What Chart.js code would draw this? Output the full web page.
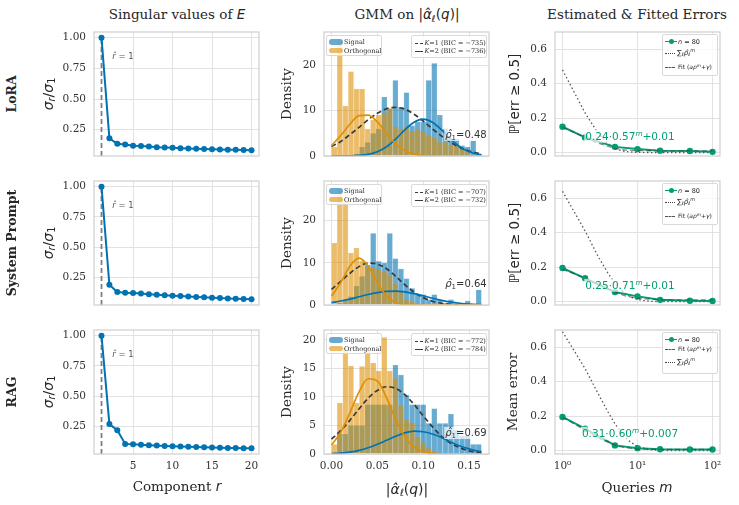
<!DOCTYPE html>
<html lang="en">
  <head>
    <meta charset="UTF-8" />
    <title>Singular values, GMM fits and error decay</title>
    <script src="https://cdn.jsdelivr.net/npm/chart.js@4.4.1/dist/chart.umd.min.js"></script>
    <style>
      body {
        margin: 0;
        width: 739px;
        height: 505px;
        position: relative;
        overflow: hidden;
        background: #fff;
        color: #262626;
        font-family: "DejaVu Serif", serif;
      }
      canvas {
        position: absolute;
      }
      .t {
        position: absolute;
        transform: translate(-50%, -50%);
        white-space: nowrap;
        line-height: 1;
      }
      .rot {
        transform: translate(-50%, -50%) rotate(-90deg);
      }
      .m {
        font-family: "DejaVu Sans", sans-serif;
      }
      sub,
      sup {
        font-size: 70%;
        line-height: 0;
      }
      sub {
        vertical-align: -0.25em;
      }
      sup {
        vertical-align: 0.55em;
      }
      .leg {
        position: absolute;
        background: rgba(255, 255, 255, 0.8);
        border: 1px solid #d9d9d9;
        border-radius: 2px;
        box-sizing: border-box;
        font-size: 6.5px;
      }
      .leg div {
        position: absolute;
        white-space: nowrap;
        line-height: 1;
      }
    </style>
  </head>
  <body>
    <script>
      // ---- values ----
      const rowNames = ["LoRA", "System Prompt", "RAG"];

      // column 1: normalised singular values
      const components = [1, 2, 3, 4, 5, 6, 7, 8, 9, 10, 11, 12, 13, 14, 15, 16, 17, 18, 19, 20];
      const svLora = [1.0, 0.18, 0.135, 0.13, 0.12, 0.117, 0.113, 0.108, 0.105, 0.103, 0.1, 0.098, 0.096, 0.094, 0.092, 0.09, 0.088, 0.086, 0.084, 0.082];
      const svSystem = [1.0, 0.19, 0.13, 0.125, 0.122, 0.118, 0.113, 0.108, 0.104, 0.1, 0.097, 0.093, 0.09, 0.087, 0.084, 0.081, 0.078, 0.075, 0.073, 0.07];
      const svRag = [1.0, 0.27, 0.22, 0.107, 0.103, 0.1, 0.096, 0.093, 0.09, 0.088, 0.085, 0.083, 0.081, 0.079, 0.077, 0.076, 0.074, 0.073, 0.071, 0.07];
      const rHat = [1, 1, 1];

      // column 2: histograms (density, 27 bins from 0) and GMM curves
      const binWidth = 0.00606;
      const sigLora = [0, 0, 0, 0, 0.5, 2.0, 3.0, 5.0, 6.0, 13.0, 10.4, 16.7, 10.8, 14.0, 6.7, 7.5, 7.5, 16.7, 20.4, 9.0, 6.0, 3.8, 3.8, 2.3, 2.0, 3.4, 0.5];
      const orthLora = [2.0, 25.5, 11.0, 18.6, 14.8, 14.8, 6.0, 8.0, 9.0, 9.5, 10.5, 6.5, 6.0, 6.5, 5.5, 6.0, 5.5, 4.5, 4.0, 3.0, 3.0, 2.5, 2.5, 1.5, 1.0, 0, 0];
      const sigSystem = [0, 0.5, 1.0, 2.0, 4.5, 6.8, 9.5, 17.0, 10.4, 10.0, 17.0, 11.0, 8.6, 6.3, 4.0, 2.5, 2.5, 1.3, 2.5, 1.3, 0.5, 1.3, 0, 0, 1.0, 0, 3.7];
      const orthSystem = [14.7, 27.5, 24.5, 12.3, 13.5, 10.5, 9.0, 9.0, 8.5, 8.0, 7.0, 5.0, 3.0, 1.5, 0.8, 0.3, 0.3, 0, 0, 0, 0, 0, 0, 0, 0, 0, 0];
      const sigRag = [0, 3.5, 3.5, 5.0, 5.0, 5.0, 8.7, 8.7, 8.7, 8.7, 8.7, 15.6, 13.9, 10.4, 8.7, 8.7, 8.7, 5.4, 8.0, 5.4, 5.4, 7.0, 4.2, 3.2, 3.2, 1.7, 1.7];
      const orthRag = [1.7, 9.0, 18.5, 15.5, 9.0, 15.4, 18.3, 16.0, 14.6, 20.5, 14.6, 13.3, 8.5, 6.0, 5.5, 3.0, 2.0, 1.0, 0.5, 0, 0, 0, 0, 0, 0, 0, 0];

      const alphaGrid = [0, 0.01, 0.02, 0.03, 0.04, 0.05, 0.06, 0.07, 0.08, 0.09, 0.1, 0.11, 0.12, 0.13, 0.14, 0.15, 0.16, 0.1636];
      const k1Lora = [2.1, 3.2, 4.7, 6.3, 8.0, 9.4, 10.4, 10.7, 10.3, 9.2, 7.7, 6.0, 4.4, 3.0, 1.9, 1.1, 0.6, 0.5];
      const k2OrthLora = [2.3, 4.5, 7.0, 8.9, 9.0, 7.5, 5.0, 2.7, 1.2, 0.4, 0.1, 0.03, 0, 0, 0, 0, 0, 0];
      const k2SigLora = [0.01, 0.01, 0.03, 0.12, 0.37, 0.95, 2.05, 3.74, 5.75, 7.43, 8.1, 7.43, 5.75, 3.74, 2.05, 0.95, 0.37, 0.25];
      const k1System = [3.7, 5.6, 7.5, 9.1, 9.95, 9.7, 8.6, 6.8, 4.8, 3.05, 1.75, 0.9, 0.4, 0.17, 0.06, 0.02, 0, 0];
      const k2OrthSystem = [2.1, 5.3, 9.2, 11.1, 9.2, 5.3, 2.1, 0.6, 0.1, 0.01, 0, 0, 0, 0, 0, 0, 0, 0];
      const k2SigSystem = [0.58, 0.94, 1.4, 1.95, 2.5, 2.95, 3.25, 3.3, 3.1, 2.7, 2.2, 1.6, 1.1, 0.7, 0.42, 0.23, 0.12, 0.1];
      const k1Rag = [2.6, 4.1, 5.9, 7.9, 9.8, 11.15, 11.8, 11.5, 10.4, 8.7, 6.7, 4.8, 3.1, 1.9, 1.1, 0.56, 0.27, 0.2];
      const k2OrthRag = [1.6, 3.8, 7.2, 10.9, 13.2, 12.8, 9.9, 6.1, 3.0, 1.2, 0.4, 0.1, 0.02, 0, 0, 0, 0, 0];
      const k2SigRag = [0.07, 0.17, 0.34, 0.64, 1.1, 1.7, 2.4, 3.1, 3.7, 4.0, 3.9, 3.5, 2.9, 2.1, 1.4, 0.9, 0.5, 0.42];
      const bicK1 = [-735, -707, -772];
      const bicK2 = [-736, -732, -784];
      const rhoHat = ["0.48", "0.64", "0.69"];
      const densityMax = [27.3, 29.4, 21.75];
      const densityTicks = [[0, 10, 20], [0, 10, 20], [0, 5, 10, 15, 20]];

      // column 3: error vs number of queries
      const queries = [1, 2, 5, 10, 20, 50, 100];
      const errLora = [0.15, 0.088, 0.033, 0.02, 0.011, 0.009, 0.004];
      const errSystem = [0.195, 0.135, 0.055, 0.03, 0.01, 0.005, 0.003];
      const errRag = [0.195, 0.127, 0.03, 0.014, 0.008, 0.006, 0.006];
      const fitM = [1, 2, 3, 5, 7, 10, 20, 50, 100];
      const fitLora = [0.147, 0.088, 0.054, 0.024, 0.014, 0.011, 0.01, 0.01, 0.01];
      const fitSystem = [0.188, 0.136, 0.099, 0.055, 0.032, 0.018, 0.01, 0.01, 0.01];
      const fitRag = [0.193, 0.119, 0.074, 0.031, 0.016, 0.009, 0.007, 0.007, 0.007];
      const sumM = [1, 2, 3, 4, 5, 6, 7, 8, 10, 15, 20, 50, 100];
      const sumLora = [0.48, 0.23, 0.11, 0.053, 0.025, 0.012, 0.006, 0.003, 0.001, 0, 0, 0, 0];
      const sumSystem = [0.64, 0.41, 0.26, 0.168, 0.107, 0.069, 0.044, 0.028, 0.012, 0.001, 0, 0, 0];
      const sumRag = [0.69, 0.476, 0.329, 0.227, 0.156, 0.108, 0.074, 0.051, 0.024, 0.004, 0.0006, 0, 0];
      const fitText = ["0.24·0.57<sup><i>m</i></sup>+0.01", "0.25·0.71<sup><i>m</i></sup>+0.01", "0.31·0.60<sup><i>m</i></sup>+0.007"];

      // ---- layout ----
      const BLUE = "#0173b2", ORANGE = "#de8f05", GREEN = "#029e73";
      const SIG_FILL = "rgba(1, 115, 178, 0.6)", ORTH_FILL = "rgba(222, 143, 5, 0.6)";
      const PLOT_W = 165, PLOT_H = 124;
      const colLeft = [94, 324, 555];
      const rowTop = [32, 181, 330];
      const PAD = { l: 50, r: 8, t: 6, b: 28 };

      const frame = {
        id: "frame",
        afterDatasetsDraw(chart) {
          const { ctx, chartArea: a } = chart;
          ctx.save();
          ctx.strokeStyle = "#cfcfcf";
          ctx.lineWidth = 1.2;
          ctx.strokeRect(a.left, a.top, a.right - a.left, a.bottom - a.top);
          ctx.restore();
        },
      };

      function axis({ min, max, ticks, fmt, show = true, type = "linear", x = false }) {
        return {
          type, min, max, offset: false,
          grid: { color: "#e2e2e2", drawTicks: false, offset: false },
          border: { display: false },
          ticks: {
            display: show, autoSkip: false, maxRotation: 0, padding: x ? 6 : 8,
            color: "#333", font: { family: "DejaVu Serif", size: 10.5 }, callback: fmt,
          },
          afterBuildTicks: (s) => { s.ticks = ticks.map((v) => ({ value: v })); },
          afterFit: (s) => {
            if (x) s.height = PAD.b; else s.width = PAD.l;
            s.paddingLeft = s.paddingRight = s.paddingTop = s.paddingBottom = 0;
          },
        };
      }

      function panel(row, col, type, datasets, scales) {
        const c = document.createElement("canvas");
        c.width = PLOT_W + PAD.l + PAD.r;
        c.height = PLOT_H + PAD.t + PAD.b;
        c.style.left = colLeft[col] - PAD.l + "px";
        c.style.top = rowTop[row] - PAD.t + "px";
        document.body.appendChild(c);
        return new Chart(c, {
          type,
          data: { datasets },
          options: {
            responsive: false, animation: false, devicePixelRatio: 1, events: [],
            layout: { padding: { top: PAD.t, right: PAD.r, left: 0, bottom: 0 } },
            plugins: { legend: { display: false }, tooltip: { enabled: false } },
            scales,
          },
          plugins: [frame],
        });
      }

      function txt(x, y, html, cls, style) {
        const d = document.createElement("div");
        d.className = "t " + (cls || "");
        d.style.left = x + "px";
        d.style.top = y + "px";
        if (style) d.style.cssText += style;
        d.innerHTML = html;
        document.body.appendChild(d);
        return d;
      }

      function legendBox(x, y, w, h, html) {
        const d = document.createElement("div");
        d.className = "leg";
        Object.assign(d.style, { left: x + "px", top: y + "px", width: w + "px", height: h + "px" });
        d.innerHTML = html;
        document.body.appendChild(d);
      }

      const pts = (xs, ys) => xs.map((v, i) => ({ x: v, y: ys[i] }));

      // ---- column 1: singular values ----
      [svLora, svSystem, svRag].forEach((vals, row) => {
        const lo = Math.min(...vals), hi = Math.max(...vals), span = hi - lo;
        const ymin = lo - 0.05 * span, ymax = hi + 0.05 * span;
        const r = rHat[row];
        panel(row, 0, "line", [
          { data: pts(components, vals), borderColor: BLUE, backgroundColor: BLUE, borderWidth: 2, pointRadius: 3, pointBorderWidth: 0 },
          { data: [{ x: r, y: ymin }, { x: r, y: vals[r - 1] }], borderColor: "#808080", borderDash: [5, 3], borderWidth: 1.8, pointRadius: 0 },
        ], {
          x: axis({ min: 0.05, max: 20.95, ticks: [5, 10, 15, 20], fmt: (v) => String(v), show: row === 2, x: true }),
          y: axis({ min: ymin, max: ymax, ticks: [0.25, 0.5, 0.75, 1.0], fmt: (v) => v.toFixed(2) }),
        });
      });

      // ---- column 2: histograms + GMM ----
      const hist = [
        [sigLora, orthLora, k1Lora, k2OrthLora, k2SigLora],
        [sigSystem, orthSystem, k1System, k2OrthSystem, k2SigSystem],
        [sigRag, orthRag, k1Rag, k2OrthRag, k2SigRag],
      ];
      hist.forEach(([sig, orth, k1, k2o, k2s], row) => {
        const centers = sig.map((_, k) => binWidth * (k + 0.5));
        const bar = (vals, fill, edge) => ({
          type: "bar", data: pts(centers, vals), backgroundColor: fill, borderColor: edge,
          borderWidth: 0.5, inflateAmount: 0, grouped: false, barPercentage: 1, categoryPercentage: 1,
        });
        const curve = (vals, color, dash) => ({
          type: "line", data: pts(alphaGrid, vals), borderColor: color, borderDash: dash || [],
          borderWidth: 1.7, pointRadius: 0, cubicInterpolationMode: "monotone", order: 0,
        });
        panel(row, 1, "bar", [
          Object.assign(bar(sig, SIG_FILL, "rgba(1, 115, 178, 0.7)"), { order: 3 }),
          Object.assign(bar(orth, ORTH_FILL, "rgba(222, 143, 5, 0.7)"), { order: 2 }),
          curve(k2o, ORANGE),
          curve(k2s, BLUE),
          curve(k1, "#3a3a3a", [5, 3]),
        ], {
          x: axis({ min: -0.0082, max: 0.1718, ticks: [0, 0.05, 0.1, 0.15], fmt: (v) => v.toFixed(2), show: row === 2, x: true }),
          y: axis({ min: 0, max: densityMax[row], ticks: densityTicks[row], fmt: (v) => String(v) }),
        });
      });

      // ---- column 3: errors vs queries ----
      const errs = [
        [errLora, fitLora, sumLora],
        [errSystem, fitSystem, sumSystem],
        [errRag, fitRag, sumRag],
      ];
      const logLabels = { 1: "10⁰", 10: "10¹", 100: "10²" };
      errs.forEach(([err, fit, sum], row) => {
        panel(row, 2, "line", [
          { data: pts(fitM, fit), borderColor: "rgba(60, 60, 60, 0.6)", borderDash: [5, 3], borderWidth: 1.3, pointRadius: 0, order: 0 },
          { data: pts(queries, err), borderColor: GREEN, backgroundColor: GREEN, borderWidth: 2, pointRadius: 3.2, pointBorderWidth: 0, order: 1 },
          { data: pts(sumM, sum), borderColor: "#555", borderDash: [1.5, 2.5], borderWidth: 1.3, pointRadius: 0, order: 2 },
        ], {
          x: axis({ type: "logarithmic", min: 0.794, max: 125.9, ticks: [1, 10, 100], fmt: (v) => logLabels[v], show: row === 2, x: true }),
          y: axis({ min: -0.02, max: 0.7, ticks: [0, 0.2, 0.4, 0.6], fmt: (v) => v.toFixed(1) }),
        });
      });

      // ---- text: titles, axis labels, annotations, legends ----
      const alphaHat = '|<i>α̂</i><sub><i>ℓ</i></sub>(<i>q</i>)|';
      txt(177, 15, 'Singular values of <i class="m">E</i>', "", "font-size:13.5px");
      txt(407, 15, 'GMM on <span class="m">' + alphaHat + "</span>", "", "font-size:13.5px");
      txt(637, 15, "Estimated &amp; Fitted Errors", "", "font-size:13.5px");
      txt(177, 487, 'Component <i class="m">r</i>', "", "font-size:13.5px");
      txt(407, 489, alphaHat, "m", "font-size:14px");
      txt(637, 488, 'Queries <i class="m">m</i>', "", "font-size:13.5px");

      rowNames.forEach((name, row) => {
        const cy = rowTop[row] + PLOT_H / 2;
        const dy = rowTop[row] - rowTop[0];
        txt(12, cy, name, "rot", "font-size:12.5px;font-weight:bold");
        txt(48, cy, "<i>σ</i><sub><i>r</i></sub>/<i>σ</i><sub>1</sub>", "rot m", "font-size:14px");
        txt(287, cy, "Density", "rot", "font-size:13.5px");
        if (row < 2) txt(515, cy, "ℙ[err ≥ 0.5]", "rot m", "font-size:13.5px");
        else txt(513, cy, "Mean error", "rot", "font-size:13.5px");

        txt(123, 56 + dy, "<i>r̂</i> = 1", "m", "font-size:8.5px;color:#555");
        txt(466, 135 + dy, "<i>ρ̂</i><sub>1</sub>=" + rhoHat[row], "m",
          "font-size:10px;color:#333;background:rgba(255,255,255,0.7);padding:1px 1px");
        txt(630, 136 + dy - (row === 2 ? 1 : 0), fitText[row], "m",
          "font-size:10.5px;color:" + GREEN + ";background:rgba(255,255,255,0.7);padding:1px 1px");

        // histogram legends
        legendBox(326, 35 + dy, 56, 21,
          '<div style="left:1.5px;top:3px;width:14px;height:5.5px;border-radius:3px;background:' + SIG_FILL + '"></div>' +
          '<div style="left:17px;top:3px">Signal</div>' +
          '<div style="left:1.5px;top:11.5px;width:14px;height:5.5px;border-radius:3px;background:' + ORTH_FILL + '"></div>' +
          '<div style="left:17px;top:11.5px">Orthogonal</div>');
        legendBox(411, 35 + dy, 76, 23,
          '<div style="left:2.5px;top:6.5px;width:8px;border-top:1.5px dashed #3a3a3a"></div>' +
          '<div style="left:12.5px;top:3.5px"><i>K</i>=1 (BIC = −' + (-bicK1[row]) + ")</div>" +
          '<div style="left:2.5px;top:15px;width:8px;border-top:1.5px solid #3a3a3a"></div>' +
          '<div style="left:12.5px;top:12px"><i>K</i>=2 (BIC = −' + (-bicK2[row]) + ")</div>");

        // error legends
        const nRow = '<div style="left:2px;top:6px;width:12px;border-top:1.8px solid ' + GREEN + '"></div>' +
          '<div style="left:5.5px;top:4.3px;width:5px;height:5px;border-radius:50%;background:' + GREEN + '"></div>' +
          '<div class="m" style="left:15px;top:3.5px"><i>n</i> = 80</div>';
        const sumRow = (t) => '<div style="left:2px;top:' + (t + 3) + 'px;width:10px;border-top:1.3px dotted #444"></div>' +
          '<div class="m" style="left:14px;top:' + t + 'px;font-size:7px">∑<sub><i>ℓ</i></sub><i>ρ̂</i><sub><i>ℓ</i></sub><sup><i>m</i></sup></div>';
        const fitRow = (t) => '<div style="left:2px;top:' + (t + 3) + 'px;width:10px;border-top:1.3px dashed #555"></div>' +
          '<div class="m" style="left:15px;top:' + t + 'px;font-size:6px">Fit (<i>aρ</i><sup><i>m</i></sup>+<i>γ</i>)</div>';
        legendBox(662, 34 + dy, 56, 42,
          nRow + (row < 2 ? sumRow(15) + fitRow(29) : fitRow(13) + sumRow(26)));
      });
    </script>
  </body>
</html>
